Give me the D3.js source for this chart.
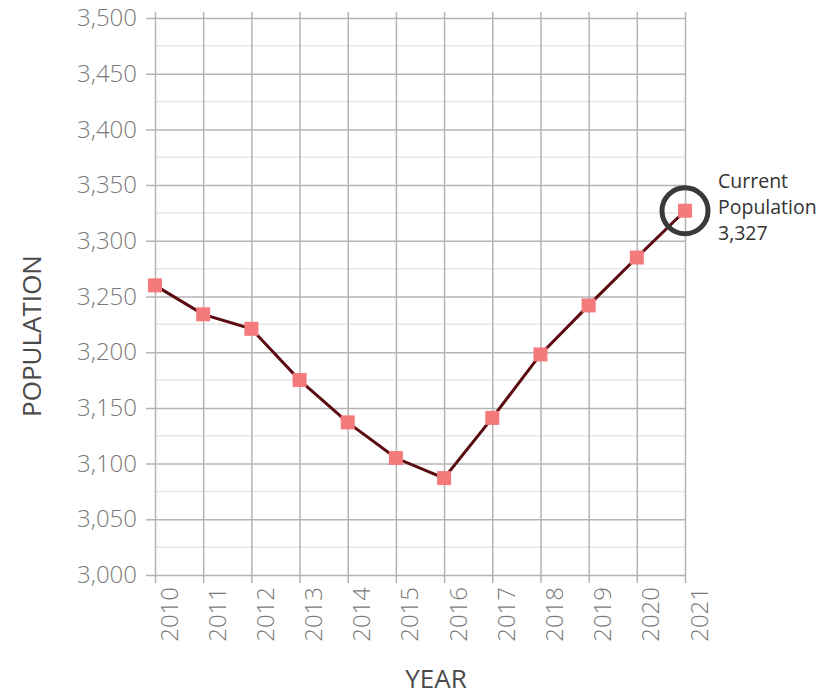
<!DOCTYPE html>
<html>
<head>
<meta charset="utf-8">
<script src="https://cdn.jsdelivr.net/npm/d3@7"></script>
<style>
  body { margin: 0; background: #fff; }
  svg { display: block; font-family: "Open Sans", sans-serif; }
</style>
</head>
<body>
<div id="chart"></div>
<script>
const years = [2010, 2011, 2012, 2013, 2014, 2015, 2016, 2017, 2018, 2019, 2020, 2021];
const population = [3260, 3234, 3221, 3175, 3137, 3105, 3087, 3141, 3198, 3242, 3285, 3327];
const yTicks = [3000, 3050, 3100, 3150, 3200, 3250, 3300, 3350, 3400, 3450, 3500];
const minorTicks = [3025, 3075, 3125, 3175, 3225, 3275, 3325, 3375, 3425, 3475];
const calloutLines = ["Current", "Population", "3,327"];

const W = 823, H = 695;
const plotLeft = 155, plotRight = 685, plotTop = 18, plotBottom = 575;

const x = d3.scaleLinear().domain([2010, 2021]).range([plotLeft, plotRight]);
const y = d3.scaleLinear().domain([3000, 3500]).range([plotBottom, plotTop]);

const svg = d3.select("#chart").append("svg")
    .attr("width", W)
    .attr("height", H);

// minor horizontal grid
svg.append("g")
    .selectAll("line")
    .data(minorTicks)
    .join("line")
    .attr("x1", plotLeft).attr("x2", plotRight)
    .attr("y1", d => y(d)).attr("y2", d => y(d))
    .attr("stroke", "#e6e6e6")
    .attr("stroke-width", 1.5);

// y axis with gridlines
const yAxis = svg.append("g")
    .attr("transform", "translate(146,0)")
    .call(d3.axisLeft(y)
        .tickValues(yTicks)
        .tickSize(-(plotRight - 146))
        .tickPadding(9)
        .tickFormat(d3.format(",")));
yAxis.select(".domain").remove();
yAxis.selectAll("line").attr("stroke", "#b4b4b4").attr("stroke-width", 1.5);
yAxis.selectAll("text")
    .attr("fill", "#7a7a7a")
    .style("font-family", "'Open Sans', sans-serif")
    .style("font-size", "24px")
    .style("font-weight", 300);

// x axis with gridlines
const xAxis = svg.append("g")
    .attr("transform", "translate(0,583)")
    .call(d3.axisBottom(x)
        .tickValues(years)
        .tickSize(-(583 - 12))
        .tickFormat(d3.format("d")));
xAxis.select(".domain").remove();
xAxis.selectAll("line").attr("stroke", "#b4b4b4").attr("stroke-width", 1.5);
xAxis.selectAll("text")
    .attr("transform", "rotate(-90)")
    .attr("text-anchor", "end")
    .attr("x", -4)
    .attr("y", 22)
    .attr("dy", 0)
    .attr("fill", "#7a7a7a")
    .style("font-family", "'Open Sans', sans-serif")
    .style("font-size", "24px")
    .style("font-weight", 300);

// axis titles
svg.append("text")
    .attr("x", 436)
    .attr("y", 688)
    .attr("text-anchor", "middle")
    .attr("fill", "#4a4a4a")
    .style("font-size", "26px")
    .text("YEAR");

svg.append("text")
    .attr("transform", "translate(41,336) rotate(-90)")
    .attr("text-anchor", "middle")
    .attr("fill", "#4a4a4a")
    .style("font-size", "26px")
    .text("POPULATION");

// line
const line = d3.line()
    .x((d, i) => x(years[i]))
    .y(d => y(d));

svg.append("path")
    .datum(population)
    .attr("d", line)
    .attr("fill", "none")
    .attr("stroke", "#5a0a10")
    .attr("stroke-width", 3);

// markers
svg.append("g")
    .selectAll("rect")
    .data(population)
    .join("rect")
    .attr("x", (d, i) => x(years[i]) - 7)
    .attr("y", d => y(d) - 7)
    .attr("width", 14)
    .attr("height", 14)
    .attr("fill", "#f47a7c");

// callout
const last = population.length - 1;
svg.append("circle")
    .attr("cx", x(years[last]))
    .attr("cy", y(population[last]))
    .attr("r", 23)
    .attr("fill", "none")
    .attr("stroke", "#3a3a3a")
    .attr("stroke-width", 5);

svg.append("g")
    .selectAll("text")
    .data(calloutLines)
    .join("text")
    .attr("x", 718)
    .attr("y", (d, i) => 188 + i * 26)
    .attr("fill", "#333")
    .style("font-size", "19.5px")
    .text(d => d);
</script>
</body>
</html>
